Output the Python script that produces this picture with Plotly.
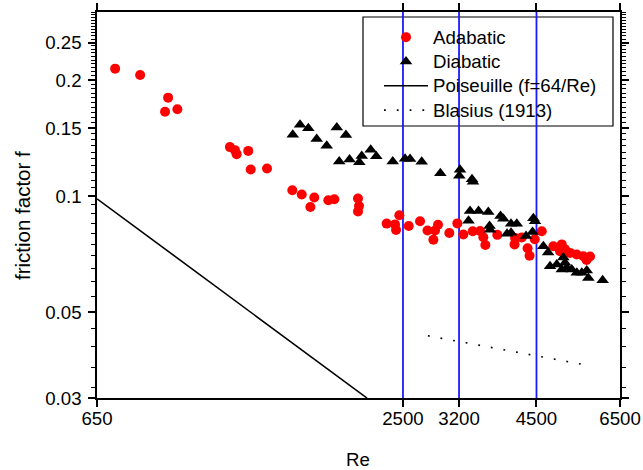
import numpy as np
import plotly.graph_objects as go

# ---- data ----
re_adiabatic = [704, 786, 889, 877, 926, 1167, 1193, 1202, 1265, 1279, 1374,
                1536, 1601, 1692, 1663, 1800, 1848, 2051, 2060, 2051,
                2327, 2414, 2425, 2460, 2564, 2695, 2785, 2858, 2879, 2917,
                3066, 3176, 3261, 3399, 3510, 3561, 3593, 3787,
                4095, 4086, 4218, 4327, 4365, 4466, 4606,
                4847, 5030, 4992, 5103, 5217, 5373, 5532, 5697, 5610]
f_adiabatic = [0.214, 0.206, 0.180, 0.1655, 0.168, 0.134, 0.1316, 0.1285, 0.131, 0.1173, 0.118,
               0.1036, 0.101, 0.0992, 0.0937, 0.0976, 0.0982, 0.0986, 0.0943, 0.0913,
               0.0849, 0.0845, 0.0817, 0.0892, 0.0837, 0.0861, 0.0815, 0.0771, 0.0815, 0.0843,
               0.0803, 0.0850, 0.0796, 0.0811, 0.0812, 0.0783, 0.0747, 0.0794,
               0.0779, 0.0750, 0.0782, 0.0733, 0.0701, 0.0773, 0.0811,
               0.0742, 0.0750, 0.0720, 0.0728, 0.0713, 0.0706, 0.0699, 0.0698, 0.0683]

re_diabatic = [1539, 1589, 1648, 1710, 1787, 1868, 1945,
               1888, 1976, 2063, 2085, 2169, 2223,
               2390, 2523, 2579, 2715,
               2947, 3214, 3204, 3388, 3403,
               3359, 3487, 3640, 3841, 3889, 3336,
               3660, 3668, 4023, 4126, 3953, 4023, 4298, 4439, 4472, 4423,
               4639, 4736, 4777, 4920, 5065, 5103, 5030, 5142, 5256, 5373, 5493, 5615, 5655, 6022]
f_diabatic = [0.1442, 0.1532, 0.1499, 0.1406, 0.1351, 0.1506, 0.1440,
              0.1229, 0.1244, 0.1225, 0.1270, 0.1320, 0.1268,
              0.1229, 0.1251, 0.1248, 0.1227,
              0.1147, 0.1171, 0.1129, 0.1106, 0.1090,
              0.0915, 0.0915, 0.0910, 0.0889, 0.0874, 0.0863,
              0.0837, 0.0818, 0.0848, 0.0848, 0.0799, 0.0804, 0.0789, 0.0876, 0.0861, 0.0808,
              0.0742, 0.0715, 0.0658, 0.0665, 0.0694, 0.0672, 0.0646, 0.0652, 0.0646, 0.0633, 0.0633, 0.0642, 0.0614, 0.0606]

re_poiseuille = np.array([650.0, 2134.0])
f_poiseuille = 64.0 / re_poiseuille

re_blasius = np.array([2790.0, 5720.0])
f_blasius = 0.316 * re_blasius ** -0.25

re_marks = [2500, 3200, 4500]

x_tickvals = [650, 2500, 3200, 4500, 6500]
x_ticktext = ["650", "2500", "3200", "4500", "6500"]
y_tickvals = [0.03, 0.05, 0.1, 0.15, 0.2, 0.25]
y_ticktext = ["0.03", "0.05", "0.1", "0.15", "0.2", "0.25"]
y_minor = ([0.032, 0.036, 0.0407, 0.0455]
           + [round(0.055 + 0.005 * i, 4) for i in range(9)]
           + [round(0.105 + 0.005 * i, 4) for i in range(40) if round(0.105 + 0.005 * i, 4) not in (0.15, 0.2, 0.25)])

legend_names = ["Adabatic", "Diabatic", "Poiseuille (f=64/Re)", "Blasius (1913)"]

x_range = [650, 6500]
y_range = [0.03, 0.3]

FONT = "Arial, Liberation Sans, sans-serif"
FS = 18.67
LEG_FS = 16.4  # controls legend row height; text itself drawn at FS


def leg(name):
    return '<span style="font-size:%.2fpx">%s</span>' % (FS, name)


fig = go.Figure()

# vertical reference lines
vx, vy = [], []
for v in re_marks:
    vx += [v, v, None]
    vy += [y_range[0], y_range[1], None]
fig.add_trace(go.Scatter(x=vx, y=vy, mode="lines", showlegend=False,
                         line=dict(color="#1a1aff", width=1.8), hoverinfo="skip"))

fig.add_trace(go.Scatter(x=re_adiabatic, y=f_adiabatic, mode="markers", name=leg(legend_names[0]),
                         marker=dict(symbol="circle", size=10, color="#ff0000")))
fig.add_trace(go.Scatter(x=re_diabatic, y=f_diabatic, mode="markers", name=leg(legend_names[1]),
                         marker=dict(symbol="triangle-up", size=11, color="#000000")))
fig.add_trace(go.Scatter(x=re_poiseuille, y=f_poiseuille, mode="lines", name=leg(legend_names[2]),
                         line=dict(color="black", width=1.6)))
fig.add_trace(go.Scatter(x=re_blasius, y=f_blasius, mode="lines", name=leg(legend_names[3]),
                         line=dict(color="black", width=1.6, dash="1.8px,11px")))

PW, PH = 643, 470
PL, PR, PT, PB = 97, 620, 12, 398  # plot area in page pixels
ml, mt = PL, PT
mr, mb = PW - PR, PH - PB
pw, ph = PR - PL, PB - PT


def px2paper(px, py):
    return (px - PL) / pw, (PB - py) / ph


bx0, by1 = px2paper(363, 17)
bx1, by0 = px2paper(613, 126)
fig.add_shape(type="rect", xref="paper", yref="paper", x0=bx0, x1=bx1, y0=by0, y1=by1,
              line=dict(color="black", width=1.2), fillcolor="white", layer="below")

lx, _ = px2paper(379, 0)
ly_container = 1 - 20 / PH

fig.update_layout(
    width=PW, height=PH,
    margin=dict(l=ml, r=mr, t=mt, b=mb, pad=0, autoexpand=False),
    paper_bgcolor="white", plot_bgcolor="white",
    font=dict(family=FONT, size=FS, color="black"),
    showlegend=True,
    legend=dict(x=lx, y=ly_container, xref="paper", yref="container",
                xanchor="left", yanchor="top", bgcolor="rgba(0,0,0,0)",
                borderwidth=0, itemwidth=44, font=dict(family=FONT, size=LEG_FS),
                itemsizing="trace", tracegroupgap=0),
    xaxis=dict(type="log", range=[np.log10(x_range[0]), np.log10(x_range[1])],
               tickmode="array", tickvals=x_tickvals, ticktext=x_ticktext,
               ticks="outside", ticklen=7, tickwidth=1.5, tickcolor="black",
               showline=True, linecolor="black", linewidth=1.5, mirror="allticks",
               showgrid=False, zeroline=False, tickfont=dict(size=FS),
               ticklabelstandoff=-4, automargin=False),
    yaxis=dict(type="log", range=[np.log10(y_range[0]), np.log10(y_range[1])],
               tickmode="array", tickvals=y_tickvals, ticktext=y_ticktext,
               ticks="outside", ticklen=7, tickwidth=1.5, tickcolor="black",
               showline=True, linecolor="black", linewidth=1.5, mirror="allticks",
               showgrid=False, zeroline=False, tickfont=dict(size=FS),
               ticklabelstandoff=3, automargin=False,
               minor=dict(tickmode="array", tickvals=y_minor, ticks="outside",
                          ticklen=4, tickwidth=1, tickcolor="black", showgrid=False)),
)

tx, ty = px2paper(358, 460)
fig.add_annotation(x=tx, y=ty, xref="paper", yref="paper", text="Re", showarrow=False,
                   font=dict(size=FS), xanchor="center", yanchor="middle")
ax_, ay_ = px2paper(22, 216)
fig.add_annotation(x=ax_, y=ay_, xref="paper", yref="paper", text="friction factor f",
                   showarrow=False, textangle=-90, font=dict(size=20.5),
                   xanchor="center", yanchor="middle")

fig.write_html(
    "out.html",
    config={"displayModeBar": False},
    post_script="document.body.style.margin='0';document.body.style.overflow='hidden';",
)
